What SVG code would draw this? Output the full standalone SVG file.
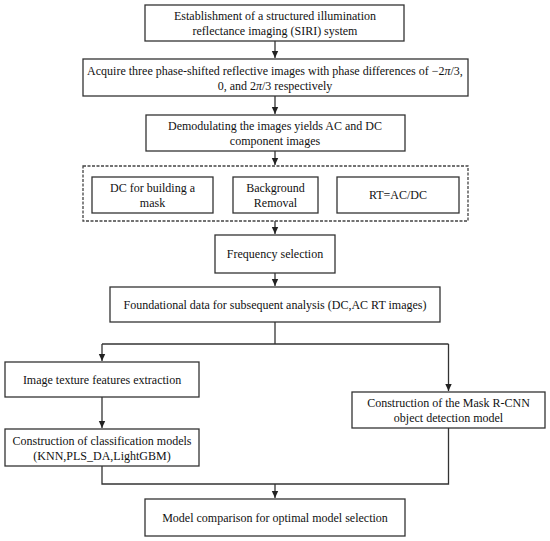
<svg xmlns="http://www.w3.org/2000/svg" width="550" height="541" viewBox="0 0 550 541">
<style>
.b{fill:#fff;stroke:#333;stroke-width:1.3}
.d{fill:none;stroke:#444;stroke-width:1.3;stroke-dasharray:3,1.5}
.c{fill:none;stroke:#333;stroke-width:1.3}
text{font-family:"Liberation Serif","Times New Roman",serif;font-size:12px;fill:#111;text-anchor:middle}
</style>
<defs>
<marker id="ah" markerWidth="8" markerHeight="8" refX="7" refY="4" orient="auto" markerUnits="userSpaceOnUse">
<path d="M0,0.8 L7,4 L0,7.2 Z" fill="#222"/>
</marker>
</defs>
<rect width="550" height="541" fill="#fff"/>
<g id="connectors">
<line class="c" x1="275" y1="41" x2="275" y2="58" marker-end="url(#ah)"/>
<line class="c" x1="275" y1="96" x2="275" y2="114" marker-end="url(#ah)"/>
<line class="c" x1="275" y1="151" x2="275" y2="165" marker-end="url(#ah)"/>
<line class="c" x1="275" y1="221" x2="275" y2="234" marker-end="url(#ah)"/>
<line class="c" x1="275" y1="273" x2="275" y2="286" marker-end="url(#ah)"/>
<polyline class="c" points="275,322 275,344"/>
<polyline class="c" points="102,344 448.5,344"/>
<line class="c" x1="102" y1="344" x2="102" y2="361" marker-end="url(#ah)"/>
<line class="c" x1="448.5" y1="344" x2="448.5" y2="391" marker-end="url(#ah)"/>
<line class="c" x1="102" y1="397" x2="102" y2="428" marker-end="url(#ah)"/>
<polyline class="c" points="102,466 102,484 448.5,484 448.5,428"/>
<line class="c" x1="275" y1="484" x2="275" y2="498" marker-end="url(#ah)"/>
</g>
<g id="n1"><rect class="b" x="145" y="5" width="259" height="36"/><text x="275" y="20">Establishment of a structured illumination</text><text x="275" y="35">reflectance imaging (SIRI) system</text></g>
<g id="n2"><rect class="b" x="83" y="59" width="385" height="37"/><text x="275" y="74.5">Acquire three phase-shifted reflective images with phase differences of −2<tspan font-style="italic">π</tspan>/3,</text><text x="275" y="89.5">0, and 2<tspan font-style="italic">π</tspan>/3 respectively</text></g>
<g id="n3"><rect class="b" x="146" y="115" width="259" height="36"/><text x="275" y="130">Demodulating the images yields AC and DC</text><text x="275" y="145">component images</text></g>
<g id="group"><rect class="d" x="83" y="166" width="385" height="55"/></g>
<g id="n4"><rect class="b" x="92" y="177" width="121" height="36"/><text x="152.5" y="192">DC for building a</text><text x="152.5" y="207">mask</text></g>
<g id="n5"><rect class="b" x="233" y="177" width="85" height="36"/><text x="275.5" y="192">Background</text><text x="275.5" y="207">Removal</text></g>
<g id="n6"><rect class="b" x="337" y="177" width="122" height="36"/><text x="398" y="199">RT=AC/DC</text></g>
<g id="n7"><rect class="b" x="215" y="235" width="120" height="38"/><text x="275" y="258">Frequency selection</text></g>
<g id="n8"><rect class="b" x="110" y="287" width="330" height="35"/><text x="275" y="308.5">Foundational data for subsequent analysis (DC,AC RT images)</text></g>
<g id="n9"><rect class="b" x="5" y="362" width="194" height="35"/><text x="102" y="383.5">Image texture features extraction</text></g>
<g id="n10"><rect class="b" x="5" y="429" width="194" height="37"/><text x="102" y="444.5">Construction of classification models</text><text x="102" y="459.5">(KNN,PLS_DA,LightGBM)</text></g>
<g id="n11"><rect class="b" x="352" y="392" width="193" height="36"/><text x="448.5" y="407">Construction of the  Mask R-CNN</text><text x="448.5" y="422">object detection model</text></g>
<g id="n12"><rect class="b" x="145" y="499" width="260" height="37"/><text x="275" y="521.5">Model comparison for optimal model selection</text></g>
</svg>
